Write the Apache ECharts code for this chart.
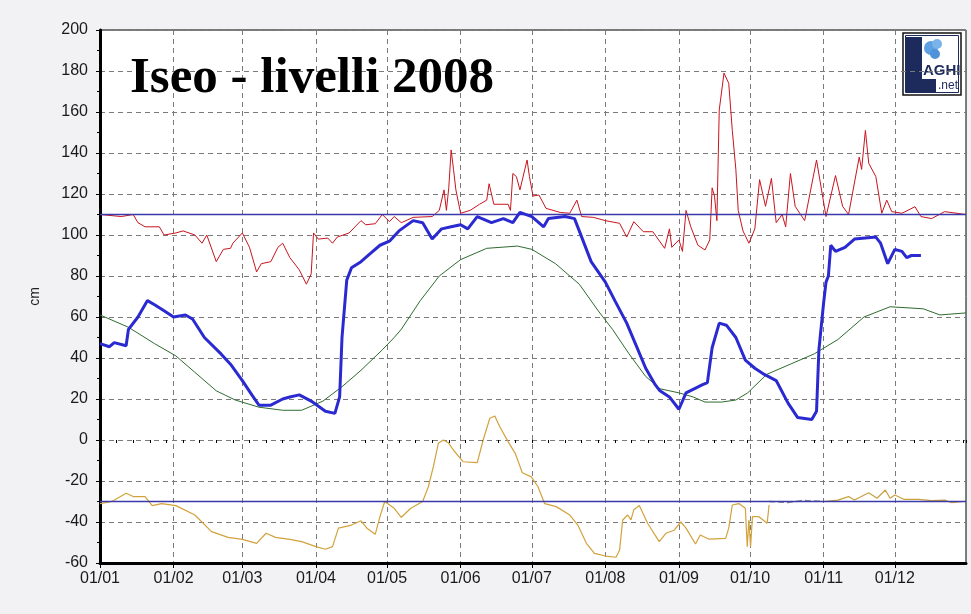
<!DOCTYPE html>
<html>
<head>
<meta charset="utf-8">
<script src="https://cdn.jsdelivr.net/npm/echarts@6/dist/echarts.min.js"></script>
<style>html,body{margin:0;padding:0;background:#f2f2f4;}#c{width:971px;height:614px;}</style>
</head>
<body>
<div id="c"></div>
<script>
// x values are days since 1 January 2008
const level2008 = [[0,47],[4,45.5],[6,47.5],[11,46],[12,54],[16,60],[20,68],[23,66],[27,63],[31,60],[36,61],[39,59],[44,50],[51,42],[55,37],[60,29],[64,22],[67,17],[72,17],[77,20],[80,21],[84,22],[89,19],[95,14],[99,13],[101,21],[102,50],[104,78],[106,84],[110,87],[114,91],[118,95],[122,97],[126,102],[132,107],[136,106],[140,98],[144,103],[148,104],[152,105],[155,103],[159,109],[165,106],[170,108],[174,106],[177,111],[182,109],[187,104],[189,108],[196,109],[200,108],[202,102],[207,87],[213,77],[217,68],[222,57],[226,46],[230,35],[234,27],[236,24],[240,21],[244,15],[247,23],[254,27],[256,28],[258,45],[261,57],[264,56],[268,50],[272,39],[276,35],[280,32],[285,29],[290,18],[294,11],[300,10],[302,14],[303,44],[305,67],[306,77],[307,80],[308,95],[310,92],[314,94],[318,98],[327,99],[329,96],[332,86],[335,93],[338,92],[340,89],[342,90],[346,90]];
const meanLevel = [[0,61],[12,55],[23,47],[32,41],[40,33],[49,24],[57,19.5],[67,16],[77,14.5],[85,14.5],[94,19],[102,26],[110,34],[119,44],[124,50],[127,54],[135,68],[143,80],[152,88],[163,93.5],[176,94.6],[182,93],[192,86],[202,76],[210,63],[216,54],[223,42],[230,31],[236,25],[244,23],[250,21],[255,18.5],[262,18.5],[268,19.5],[273,23],[281,32],[291,37],[301,42],[311,49],[322,60],[333,65],[347,64],[354,61],[365,62]];
const maxLevel = [[0,110],[9,109],[14,110],[16,106],[19,104],[25,104],[27,100],[32,101],[35,102],[40,100],[43,96],[45,100],[49,87],[52,93],[55,93.5],[56,96],[60,101],[63,94],[66,82],[68,86],[72,87],[75,94],[77,96],[80,89],[84,83],[87,76],[89,81],[90,101],[92,98],[96,98.5],[98,96],[100,99],[105,101],[110,107],[112,105],[116,105.5],[119,110],[122,106.5],[124,109],[127,106],[132,108.6],[140,109],[143,112],[145,122],[146,112],[147,123],[148,141.5],[149,132],[150,122],[152,110.6],[156,112],[160,115],[163,117],[164,125],[166,115],[172,115],[173,112],[174,130],[175.5,128.5],[177,122],[180,136.6],[181,128.5],[182.5,119],[185,119.5],[188,113],[194,111],[198,110.6],[201,117],[203,109],[208,108.6],[213,107],[219,105.7],[222,99],[225,106.5],[229,101.6],[233,101.6],[238,93.5],[240,103],[241,94],[244,97.6],[245.5,92],[247,112],[249,104],[252,95],[255,92.7],[257,97.6],[258,123],[259,119],[260,107],[261,161],[263,179],[265,174],[266.5,151],[268,132],[269,112],[271,102],[273.5,96],[276,103],[278,127],[280.5,114],[283,127.6],[285,106],[287.5,110],[289,104],[291,130],[293,114],[297,107],[302,136.6],[306,109],[310,129],[313,114],[315.5,110],[320,138],[321,132],[322.6,151],[324,135],[327,128.5],[329.5,110.6],[331.6,117],[333.7,111.4],[338,110.6],[343.5,113.8],[346,109],[350.5,108],[356,111.4],[365,110]];
const minLevelA = [[0,-31],[5,-30],[11,-26],[14,-27.6],[19,-27.6],[22,-32],[26,-31],[32,-32],[40,-36.6],[47,-44.7],[54,-47.5],[60,-48.5],[66,-50.4],[70,-45.5],[74,-47.5],[80,-48.5],[85,-49.6],[91,-52],[95,-53.3],[98,-52],[100.5,-43],[106,-41.5],[110,-39.4],[112.5,-43],[116,-46],[118,-37.4],[120,-30],[124,-33.3],[127,-37.7],[131,-33.3],[136,-30],[138.4,-22.8],[140.5,-13],[142.6,-1.6],[144.7,0],[146.8,-1.3],[149,-5],[153,-10.6],[159,-11],[161.5,0],[164.3,10.6],[166.4,11.7],[168.5,6.5],[172,-0.8],[175,-6.5],[178,-16],[181.8,-18],[184.6,-22.8],[187.4,-31],[192.3,-32.5],[198,-36.6],[201.4,-41.5],[205,-50.4],[208.4,-55.3],[213,-56.6],[217.5,-57.2],[219,-53.7],[220.3,-39],[222.4,-36.6],[223.8,-39],[225,-34],[227.3,-32],[230.8,-40.6],[235.7,-49.6],[238.5,-45.5],[242,-44],[244.8,-40],[247,-43],[251,-50.7],[253,-46.3],[256.7,-48.4],[263.7,-48],[265,-43],[266.5,-31.7],[269.3,-31],[272,-33.3],[272.8,-52],[273.5,-39],[274.2,-52],[275,-37.4],[277.7,-37.4],[281.2,-40.6],[282,-31.7]];
const minLevelGap = [[282,-30],[290,-30.5],[296,-29.5],[305,-30]];
const minLevelB = [[305,-30],[311,-29.3],[315.5,-27.6],[318,-29.3],[324,-25.7],[327.5,-28.4],[331,-24.4],[333,-28.4],[335,-26.8],[339,-29],[345,-29],[350.5,-29.6],[356,-29.3],[359,-30.6],[364,-30]];
const refLines = [110, -30];
const yTicks = {min: -60, max: 200, interval: 20};
const titleText = 'Iseo - livelli 2008';
const yName = 'cm';

// daily category labels DD/MM for 2008 (month starts are labelled)
const dayLabels = [];
for (let d = 0; d < 366; d++) {
  const dt = new Date(2008, 0, 1 + d);
  dayLabels.push(String(dt.getDate()).padStart(2,'0') + '/' + String(dt.getMonth()+1).padStart(2,'0'));
}
const isMonthStart = (i, v) => v.slice(0,2) === '01';

const chart = echarts.init(document.getElementById('c'));
const lineBase = {type: 'line', xAxisIndex: 0, yAxisIndex: 0, symbol: 'none', showSymbol: false, animation: false};
const navy = '#1c2a5c';
chart.setOption({
  backgroundColor: '#f2f2f4',
  animation: false,
  title: {
    text: titleText, left: 130, top: 53, padding: 0,
    textStyle: {fontFamily: 'Liberation Serif', fontWeight: 'bold', fontSize: 51, color: '#000'}
  },
  grid: {left: 100, right: 5, top: 30, bottom: 51, show: true, backgroundColor: '#fff', borderColor: '#000', borderWidth: 1},
  xAxis: [
    {type: 'value', min: 0, max: 365, interval: 7, position: 'bottom',
     axisLine: {show: false}, axisLabel: {show: false}, splitLine: {show: false},
     axisTick: {show: true, length: 3, lineStyle: {color: '#000', width: 1}}},
    {type: 'category', data: dayLabels, boundaryGap: false, position: 'bottom',
     axisLine: {show: true, lineStyle: {color: '#000', width: 3}},
     axisTick: {show: true, interval: isMonthStart, length: 5, lineStyle: {color: '#000'}},
     axisLabel: {interval: isMonthStart, margin: 8, fontSize: 16, color: '#1a1a1a', fontFamily: 'Liberation Sans'},
     splitLine: {show: true, interval: isMonthStart, lineStyle: {color: '#7a7a7a', type: [5, 4], width: 1}}}
  ],
  yAxis: {
    type: 'value', min: yTicks.min, max: yTicks.max, interval: yTicks.interval,
    name: yName, nameLocation: 'middle', nameGap: 58, nameRotate: 90,
    nameTextStyle: {fontSize: 14, color: '#222', fontFamily: 'Liberation Sans'},
    axisLine: {show: true, lineStyle: {color: '#000', width: 3}},
    axisTick: {show: true, length: 4, lineStyle: {color: '#000'}},
    minorTick: {show: true, splitNumber: 2, length: 3, lineStyle: {color: '#000'}},
    axisLabel: {margin: 12, fontSize: 16, color: '#1a1a1a', fontFamily: 'Liberation Sans'},
    splitLine: {show: true, lineStyle: {color: '#7a7a7a', type: [5, 4], width: 1}}
  },
  series: [
    Object.assign({}, lineBase, {name: 'media', data: meanLevel, lineStyle: {color: '#2e6b2e', width: 1}}),
    Object.assign({}, lineBase, {name: 'minimo', data: minLevelA, lineStyle: {color: '#d2a23c', width: 1.2}}),
    Object.assign({}, lineBase, {name: 'minimo-gap', data: minLevelGap, lineStyle: {color: '#8a8a8a', width: 1.5, type: [6, 3]}}),
    Object.assign({}, lineBase, {name: 'minimo2', data: minLevelB, lineStyle: {color: '#c9a040', width: 1.2}}),
    Object.assign({}, lineBase, {name: 'massimo', data: maxLevel, lineStyle: {color: '#c8141e', width: 1},
      markLine: {silent: true, symbol: 'none', animation: false, label: {show: false},
        lineStyle: {color: '#3a3aaa', width: 1.3, type: 'solid'},
        data: refLines.map(v => ({yAxis: v}))}}),
    Object.assign({}, lineBase, {name: '2008', data: level2008, z: 5, lineStyle: {color: '#2a2ad0', width: 3}})
  ],
  graphic: [
    {type: 'group', x: 903, y: 33, z: 100, children: [
      {type: 'rect', shape: {x: 0, y: 0, width: 58, height: 62}, style: {fill: '#fff', stroke: '#111', lineWidth: 1.5}},
      {type: 'rect', shape: {x: 2.5, y: 2.5, width: 53, height: 57}, style: {fill: 'none', stroke: navy, lineWidth: 1}},
      {type: 'circle', shape: {cx: 28, cy: 15, r: 7}, style: {fill: '#5d9fe0'}},
      {type: 'circle', shape: {cx: 34, cy: 11, r: 5}, style: {fill: '#79b3ea'}},
      {type: 'circle', shape: {cx: 32, cy: 21, r: 5}, style: {fill: '#4f92d8'}},
      {type: 'rect', shape: {x: 3, y: 4, width: 16, height: 55}, style: {fill: navy}},
      {type: 'rect', shape: {x: 3, y: 46, width: 30, height: 13}, style: {fill: navy}},
      {type: 'text', x: 20, y: 38, style: {text: 'AGHI', fontFamily: 'Liberation Sans', fontWeight: 'bold', fontSize: 15, fill: navy, align: 'left', verticalAlign: 'middle'}},
      {type: 'text', x: 45, y: 53, style: {text: '.net', fontFamily: 'Liberation Sans', fontSize: 12, fill: navy, align: 'center', verticalAlign: 'middle'}}
    ]}
  ]
});
</script>
</body>
</html>
